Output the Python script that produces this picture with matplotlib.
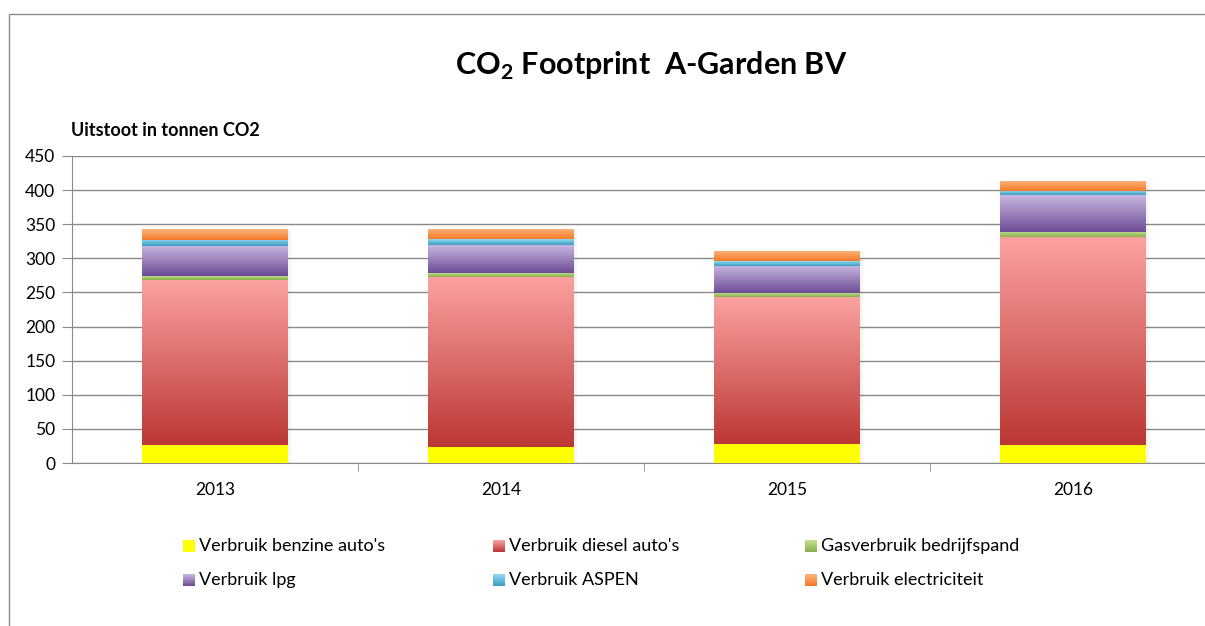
import matplotlib
matplotlib.use("Agg")
import matplotlib.pyplot as plt
import numpy as np
from matplotlib.colors import LinearSegmentedColormap
from matplotlib.patches import Rectangle

plt.rcParams["font.family"] = ["Lato", "DejaVu Sans"]
plt.rcParams["mathtext.fontset"] = "custom"
plt.rcParams["mathtext.rm"] = "Lato"
plt.rcParams["mathtext.bf"] = "Lato:bold"

years = ["2013", "2014", "2015", "2016"]
series = [
    "Verbruik benzine auto's",
    "Verbruik diesel auto's",
    "Gasverbruik bedrijfspand",
    "Verbruik lpg",
    "Verbruik ASPEN",
    "Verbruik electriciteit",
]
benzine = [26, 23, 28, 26]
diesel = [242, 250, 215, 305]
gas = [6, 6, 6, 8]
lpg = [44, 41, 40, 54]
aspen = [9, 8, 7, 6]
elec = [16, 15, 15, 15]
values = [benzine, diesel, gas, lpg, aspen, elec]

# (top colour, bottom colour) of each segment's vertical gradient
grads = [
    ("#FFFF00", "#FFFF00"),
    ("#FAA19F", "#BC3835"),
    ("#C6DE95", "#8AB14A"),
    ("#C7B6E0", "#6D4D95"),
    ("#92D8F0", "#3A9EC2"),
    ("#FDB47C", "#F47C28"),
]

W, H = 1205, 626
fig = plt.figure(figsize=(W / 100, H / 100), dpi=100)
# chart border (partly cropped on the right / bottom in the reference)
fig.patches.append(Rectangle((9 / W, -0.1), 1.2, 1 - 14 / H + 0.1, transform=fig.transFigure,
                             fill=False, ec="#8c8c8c", lw=1.0))

x0, x1, y0, y1 = 72, 1216, 463, 156
ax = fig.add_axes([x0 / W, 1 - y0 / H, (x1 - x0) / W, (y0 - y1) / H])
ax.set_xlim(-0.5, 3.5)
ax.set_ylim(0, 450)
ax.set_yticks(np.arange(0, 451, 50))
ax.yaxis.grid(True, color="#8a8a8a", lw=1.0)
ax.set_axisbelow(True)
for s in ["top", "right"]:
    ax.spines[s].set_visible(False)
ax.spines["left"].set_color("#8a8a8a")
ax.spines["bottom"].set_color("#8a8a8a")
ax.tick_params(axis="y", length=7, color="#8a8a8a", labelsize=12.5, pad=5)
ax.set_xticks(range(4))
ax.set_xticklabels(years, fontsize=12.5)
ax.tick_params(axis="x", length=0, pad=14)
ax.set_xticks([0.5, 1.5, 2.5], minor=True)
ax.tick_params(axis="x", which="minor", length=6, color="#8a8a8a")

bw = 0.51
bottoms = np.zeros(len(years))
for vals, (ctop, cbot), name in zip(values, grads, series):
    cmap = LinearSegmentedColormap.from_list(name, [cbot, ctop])
    for i, v in enumerate(vals):
        b = bottoms[i]
        # soft shadow
        ax.add_patch(Rectangle((i - bw / 2 + 0.01, b - 1.5), bw, v, fc="#000000", alpha=0.04, lw=0, zorder=2))
        rect = ax.bar(i, v, bw, bottom=b, color=ctop, lw=0, zorder=3)[0]
        img = ax.imshow(np.linspace(0, 1, 64).reshape(-1, 1), cmap=cmap, origin="lower",
                        extent=(i - bw / 2, i + bw / 2, b, b + v), aspect="auto", zorder=4)
        img.set_clip_path(rect)
    bottoms += np.array(vals)
ax.set_xlim(-0.5, 3.5)
ax.set_ylim(0, 450)

fig.text(651 / W, 1 - 66 / H, r"CO$_\mathbf{2}$ Footprint  A-Garden BV", ha="center", va="center",
         fontsize=22, fontweight="bold")
fig.text(71 / W, 1 - 131 / H, "Uitstoot in tonnen CO2", ha="left", va="center",
         fontsize=13, fontweight="bold")

# legend, row-wise: 3 columns x 2 rows
col_x = [183, 493, 805]
row_y = [546, 580]
for k, ((ctop, cbot), name) in enumerate(zip(grads, series)):
    cx, cy = col_x[k % 3], row_y[k // 3]
    lax = fig.add_axes([cx / W, 1 - (cy + 6) / H, 12 / W, 12 / H])
    lax.imshow(np.linspace(1, 0, 16).reshape(-1, 1),
               cmap=LinearSegmentedColormap.from_list(name + "_l", [cbot, ctop]),
               aspect="auto", vmin=0, vmax=1)
    lax.axis("off")
    fig.text((cx + 16) / W, 1 - cy / H, name, ha="left", va="center", fontsize=13)

fig.savefig("out.png", dpi=100)
